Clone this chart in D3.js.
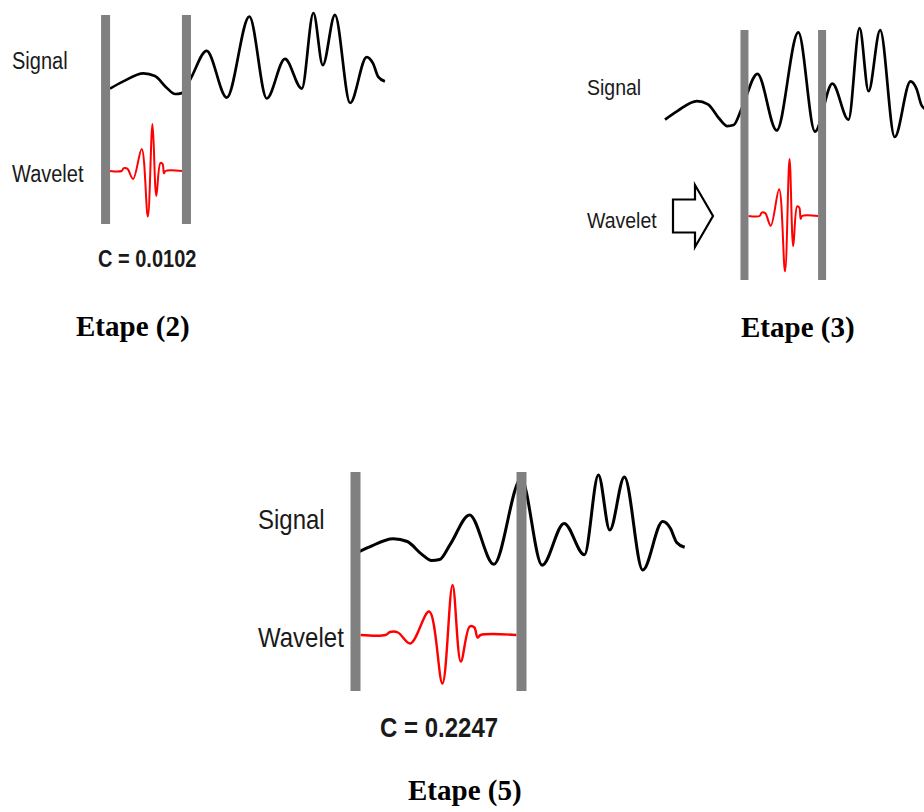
<!DOCTYPE html>
<html>
<head>
<meta charset="utf-8">
<script src="https://cdn.jsdelivr.net/npm/d3@7"></script>
<style>
  html, body { margin: 0; padding: 0; background: #fff; }
  svg { display: block; }
</style>
</head>
<body>
<svg id="chart" width="924" height="812"></svg>
<script>
// Signal: position along the signal (0-100) and height (0 = lowest, 1 = highest)
const signalT = [0, 4.8, 12.1, 16.3, 20.5, 23.6, 26, 29.2, 35, 42.3, 50.5, 56.8, 63.4, 69.5, 73.7, 77.1, 81.5, 87, 93, 95.3, 97.2, 99.6];
const signalV = [0.16, 0.24, 0.33, 0.30, 0.17, 0.10, 0.11, 0.27, 0.58, 0.06, 0.96, 0.05, 0.49, 0.16, 1.0, 0.42, 0.98, 0.0, 0.51, 0.44, 0.29, 0.24];

// Wavelet across its window (0-1), amplitude -1..1
const waveletU = [0, 0.16, 0.19, 0.24, 0.32, 0.44, 0.525, 0.59, 0.643, 0.70, 0.73, 0.75, 0.77, 1];
const waveletW = [0, 0, 0.06, 0.05, -0.17, 0.47, -0.97, 1.0, -0.53, 0.17, 0.15, -0.05, 0, 0];

// One entry per step
const stepLabels = ['Etape (2)', 'Etape (3)', 'Etape (5)'];
const coefficients = [0.0102, null, 0.2247];
const windowStart = [-1.6, 30.1, 0.75];
const windowEnd = [27.7, 59.5, 50.6];

// where each step sits on the page
const layout = [
  {x0: 110, x1: 386, yTop: 13, yBot: 103, barTop: 15, barBot: 224, barW: 9, wBase: 171, wAmp: 47,
   fs: 20, labelX: 12, signalY: 69, waveletY: 182, cX: 98, cY: 267, stepX: 76, stepY: 336, lw: 2.7, wlw: 2},
  {x0: 665, x1: 929, yTop: 28, yBot: 137, barTop: 30, barBot: 280, barW: 8, wBase: 216, wAmp: 57,
   fs: 19.5, labelX: 587, signalY: 95, waveletY: 228, stepX: 741, stepY: 337, lw: 2.7, wlw: 2, arrow: [673, 216]},
  {x0: 353, x1: 686, yTop: 475, yBot: 570, barTop: 472, barBot: 691, barW: 10, wBase: 635, wAmp: 50,
   fs: 24, labelX: 258, signalY: 529, waveletY: 647, cX: 380, cY: 737, stepX: 408, stepY: 800, lw: 3, wlw: 2.4},
];

const signal = signalT.map((t, i) => ({t: t, v: signalV[i]}));
const wavelet = waveletU.map((u, i) => ({u: u, w: waveletW[i]}));

const svg = d3.select('#chart');
const sansFont = '"Liberation Sans", Arial, Helvetica, sans-serif';
const serifFont = '"Liberation Serif", "Times New Roman", serif';

layout.forEach((L, i) => {
  const g = svg.append('g');

  const x = d3.scaleLinear([0, 100], [L.x0, L.x1]);
  const y = d3.scaleLinear([0, 1], [L.yBot, L.yTop]);

  g.append('path')
    .datum(signal)
    .attr('fill', 'none')
    .attr('stroke', '#000')
    .attr('stroke-width', L.lw)
    .attr('stroke-linejoin', 'round')
    .attr('d', d3.line().x((d) => x(d.t)).y((d) => y(d.v)).curve(d3.curveMonotoneX));

  // wavelet fills the gap between the two bars
  const left = x(windowStart[i]) + L.barW / 2;
  const right = x(windowEnd[i]) - L.barW / 2;
  const wx = d3.scaleLinear([0, 1], [left, right]);
  const wy = d3.scaleLinear([-1, 1], [L.wBase + L.wAmp, L.wBase - L.wAmp]);

  g.append('path')
    .datum(wavelet)
    .attr('fill', 'none')
    .attr('stroke', '#ff0000')
    .attr('stroke-width', L.wlw)
    .attr('stroke-linejoin', 'round')
    .attr('d', d3.line().x((d) => wx(d.u)).y((d) => wy(d.w)).curve(d3.curveCatmullRom.alpha(0.5)));

  g.selectAll('rect.bar')
    .data([windowStart[i], windowEnd[i]])
    .join('rect')
      .attr('class', 'bar')
      .attr('x', (d) => x(d) - L.barW / 2)
      .attr('y', L.barTop)
      .attr('width', L.barW)
      .attr('height', L.barBot - L.barTop)
      .attr('fill', '#808080');

  // labels are a little taller than the font, like in the scan
  const label = (tx, ty, text, size, weight) => g.append('text')
    .attr('transform', `translate(${tx},${ty}) scale(1,1.15)`)
    .attr('font-family', sansFont)
    .attr('font-size', size)
    .attr('font-weight', weight || 'normal')
    .attr('fill', '#1a1a1a')
    .text(text);

  label(L.labelX, L.signalY, 'Signal', L.fs);
  label(L.labelX, L.waveletY, 'Wavelet', L.fs);

  if (coefficients[i] !== null) {
    label(L.cX, L.cY, `C = ${coefficients[i].toFixed(4)}`, L.fs, 'bold');
  }

  if (L.arrow) {
    const [ax, ay] = L.arrow;
    const pts = [[0, -16.5], [22, -16.5], [22, -31], [40, 0], [22, 31], [22, 16.5], [0, 16.5]];
    g.append('path')
      .attr('d', d3.line()(pts.map((p) => [ax + p[0], ay + p[1]])) + 'Z')
      .attr('fill', '#fff')
      .attr('stroke', '#000')
      .attr('stroke-width', 2.2)
      .attr('stroke-linejoin', 'miter');
  }

  g.append('text')
    .attr('x', L.stepX)
    .attr('y', L.stepY)
    .attr('font-family', serifFont)
    .attr('font-size', 29)
    .attr('font-weight', 'bold')
    .attr('fill', '#000')
    .text(stepLabels[i]);
});
</script>
</body>
</html>
